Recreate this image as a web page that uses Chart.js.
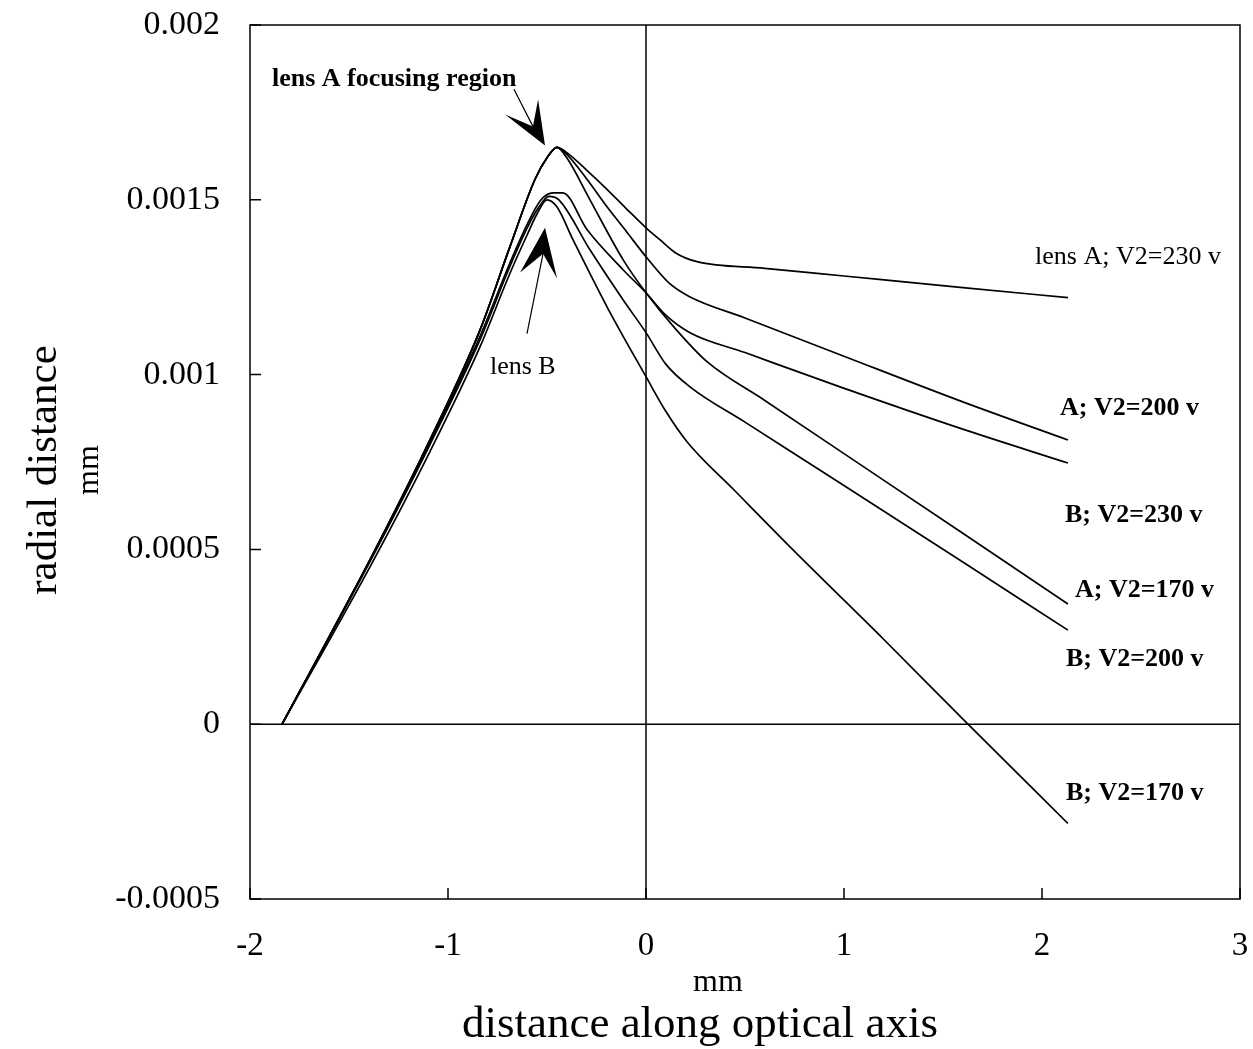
<!DOCTYPE html>
<html>
<head>
<meta charset="utf-8">
<script src="https://cdn.jsdelivr.net/npm/chart.js@4.4.0/dist/chart.umd.min.js"></script>
<style>
  html, body { margin: 0; padding: 0; background: #fff; }
  #wrap { width: 1253px; height: 1049px; position: relative; }
</style>
</head>
<body>
<div id="wrap"><canvas id="lensChart"></canvas></div>
<script>
// tick values and labels
const xTicks = [-2, -1, 0, 1, 2, 3];
const xTickLabels = ['-2', '-1', '0', '1', '2', '3'];
const yTicks = [-0.0005, 0, 0.0005, 0.001, 0.0015, 0.002];
const yTickLabels = ['-0.0005', '0', '0.0005', '0.001', '0.0015', '0.002'];

// series (x in mm along the axis, y = radial distance in mm)
const seriesNames = ['lens A; V2=230 v', 'A; V2=200 v', 'B; V2=230 v', 'A; V2=170 v', 'B; V2=200 v', 'B; V2=170 v'];

const a230x = [-1.838, -1.394, -1.091, -0.838, -0.687, -0.561, -0.50, -0.45, -0.40, -0.30, -0.197, -0.10, 0, 0.07, 0.15, 0.258, 0.6, 1.0, 1.6, 2.131];
const a230y = [0, 0.00047, 0.000813, 0.001128, 0.001366, 0.001558, 0.00162, 0.00165, 0.001635, 0.001585, 0.00153, 0.001475, 0.00142, 0.001386, 0.001348, 0.001323, 0.001304, 0.001282, 0.001249, 0.00122];

const a200x = [-1.838, -1.394, -1.091, -0.838, -0.687, -0.561, -0.50, -0.45, -0.40, -0.30, -0.197, -0.10, 0, 0.12, 0.22, 0.5, 0.98, 1.6, 2.131];
const a200y = [0, 0.00047, 0.000813, 0.001128, 0.001366, 0.001558, 0.00162, 0.00165, 0.00163, 0.00156, 0.00148, 0.00141, 0.001337, 0.00126, 0.001223, 0.001162, 0.001057, 0.000922, 0.000813];

const a170x = [-1.838, -1.394, -1.091, -0.838, -0.687, -0.561, -0.50, -0.45, -0.40, -0.283, -0.116, 0, 0.15, 0.308, 0.6, 1.0, 1.6, 2.131];
const a170y = [0, 0.00047, 0.000813, 0.001128, 0.001366, 0.001558, 0.00162, 0.00165, 0.00162, 0.0015, 0.001329, 0.001234, 0.00113, 0.001037, 0.000926, 0.000774, 0.000546, 0.000344];

const b230x = [-1.838, -1.394, -1.091, -0.838, -0.687, -0.60, -0.53, -0.47, -0.42, -0.298, -0.116, 0, 0.10, 0.222, 0.5, 0.98, 1.6, 2.131];
const b230y = [0, 0.00047, 0.000805, 0.00111, 0.00132, 0.00143, 0.0015, 0.00152, 0.00152, 0.001415, 0.0013, 0.001234, 0.00117, 0.00112, 0.001063, 0.000965, 0.000844, 0.000747];

const b200x = [-1.838, -1.394, -1.091, -0.838, -0.687, -0.60, -0.54, -0.49, -0.44, -0.283, -0.116, 0, 0.10, 0.222, 0.5, 0.98, 1.6, 2.131];
const b200y = [0, 0.000465, 0.0008, 0.0011, 0.00131, 0.00142, 0.00148, 0.00151, 0.0015, 0.001357, 0.001214, 0.00112, 0.00103, 0.000965, 0.000864, 0.00069, 0.000464, 0.000269];

const b170x = [-1.838, -1.394, -1.091, -0.838, -0.687, -0.60, -0.55, -0.50, -0.45, -0.369, -0.197, 0, 0.10, 0.207, 0.45, 0.74, 1.2, 1.626, 2.131];
const b170y = [0, 0.00045, 0.00078, 0.00108, 0.00129, 0.0014, 0.00146, 0.0015, 0.00148, 0.001386, 0.001194, 0.000994, 0.000895, 0.000808, 0.000667, 0.0005, 0.000243, 0, -0.000284];

// curve labels on the right, anchored at [x, y] in data units
const labelPos = [[1.965, 0.001337], [2.091, 0.000905], [2.116, 0.000599], [2.167, 0.000384], [2.121, 0.000186], [2.121, -0.000198]];

function pts(xs, ys) {
    return xs.map((x, i) => ({ x: x, y: ys[i] }));
}

const serif = '"Liberation Serif", "Times New Roman", serif';

const decorPlugin = {
    id: 'decor',
    afterDatasetsDraw(chart) {
        const ctx = chart.ctx;
        const a = chart.chartArea;
        const xs = chart.scales.x, ys = chart.scales.y;
        const px = v => xs.getPixelForValue(v);
        const py = v => ys.getPixelForValue(v);

        ctx.save();
        ctx.strokeStyle = '#000';
        ctx.lineWidth = 1.5;
        ctx.strokeRect(a.left, a.top, a.right - a.left, a.bottom - a.top);

        // zero lines
        ctx.beginPath();
        ctx.moveTo(a.left, py(0)); ctx.lineTo(a.right, py(0));
        ctx.moveTo(px(0), a.top); ctx.lineTo(px(0), a.bottom);
        ctx.stroke();

        // inward ticks
        ctx.beginPath();
        yTicks.forEach(v => { ctx.moveTo(a.left, py(v)); ctx.lineTo(a.left + 11, py(v)); });
        xTicks.forEach(v => { ctx.moveTo(px(v), a.bottom); ctx.lineTo(px(v), a.bottom - 11); });
        ctx.stroke();

        // right-hand curve labels
        ctx.fillStyle = '#000';
        ctx.textBaseline = 'middle';
        ctx.textAlign = 'left';
        seriesNames.forEach((name, i) => {
            ctx.font = (i === 0 ? '' : 'bold ') + '26px ' + serif;
            ctx.fillText(name, px(labelPos[i][0]), py(labelPos[i][1]));
        });

        // annotations
        ctx.font = 'bold 26px ' + serif;
        ctx.fillText('lens A focusing region', px(-1.889), py(0.001844));
        ctx.font = '26px ' + serif;
        ctx.fillText('lens B', px(-0.788), py(0.00102));

        function arrow(start, notch, tip, b1, b2) {
            ctx.lineWidth = 1.2;
            ctx.beginPath();
            ctx.moveTo(px(start[0]), py(start[1]));
            ctx.lineTo(px(notch[0]), py(notch[1]));
            ctx.stroke();
            ctx.beginPath();
            ctx.moveTo(px(tip[0]), py(tip[1]));
            ctx.lineTo(px(b1[0]), py(b1[1]));
            ctx.lineTo(px(notch[0]), py(notch[1]));
            ctx.lineTo(px(b2[0]), py(b2[1]));
            ctx.closePath();
            ctx.fill();
        }
        arrow([-0.667, 0.001816], [-0.571, 0.00171], [-0.51, 0.001655], [-0.712, 0.001744], [-0.545, 0.001787]);
        arrow([-0.601, 0.001117], [-0.52, 0.001346], [-0.51, 0.00142], [-0.636, 0.001292], [-0.449, 0.001275]);

        // axis titles
        ctx.textAlign = 'center';
        ctx.font = '32px ' + serif;
        ctx.fillText('mm', 718, 983);
        ctx.font = '45px ' + serif;
        ctx.fillText('distance along optical axis', 700, 1025);
        ctx.translate(45, 470);
        ctx.rotate(-Math.PI / 2);
        ctx.font = '43px ' + serif;
        ctx.fillText('radial distance', 0, 0);
        ctx.font = '32px ' + serif;
        ctx.fillText('mm', 0, 45);
        ctx.restore();
    }
};

const lineStyle = {
    borderColor: '#000',
    borderWidth: 1.7,
    pointRadius: 0,
    showLine: true,
    fill: false,
    cubicInterpolationMode: 'monotone',
    borderJoinStyle: 'round'
};

new Chart(document.getElementById('lensChart'), {
    type: 'scatter',
    data: {
        datasets: [
            Object.assign({ label: seriesNames[0], data: pts(a230x, a230y) }, lineStyle),
            Object.assign({ label: seriesNames[1], data: pts(a200x, a200y) }, lineStyle),
            Object.assign({ label: seriesNames[2], data: pts(b230x, b230y) }, lineStyle),
            Object.assign({ label: seriesNames[3], data: pts(a170x, a170y) }, lineStyle),
            Object.assign({ label: seriesNames[4], data: pts(b200x, b200y) }, lineStyle),
            Object.assign({ label: seriesNames[5], data: pts(b170x, b170y) }, lineStyle)
        ]
    },
    options: {
        responsive: true,
        maintainAspectRatio: false,
        animation: false,
        layout: { padding: { top: 25, right: 13, left: 0, bottom: 0 } },
        plugins: { legend: { display: false }, tooltip: { enabled: false } },
        scales: {
            x: {
                type: 'linear', min: -2, max: 3,
                afterBuildTicks: s => { s.ticks = xTicks.map(v => ({ value: v })); },
                afterFit: s => { s.height = 150; s.paddingLeft = 0; s.paddingRight = 0; },
                grid: { display: false },
                border: { display: false },
                ticks: {
                    color: '#000', padding: 20, maxRotation: 0,
                    font: { family: serif, size: 33 },
                    callback: (v) => xTickLabels[xTicks.indexOf(v)]
                }
            },
            y: {
                type: 'linear', min: -0.0005, max: 0.002,
                afterBuildTicks: s => { s.ticks = yTicks.map(v => ({ value: v })); },
                afterFit: s => { s.width = 250; s.paddingTop = 0; s.paddingBottom = 0; },
                grid: { display: false },
                border: { display: false },
                ticks: {
                    color: '#000', padding: 22,
                    font: { family: serif, size: 34 },
                    callback: (v) => yTickLabels[yTicks.indexOf(v)]
                }
            }
        }
    },
    plugins: [decorPlugin]
});
</script>
</body>
</html>
